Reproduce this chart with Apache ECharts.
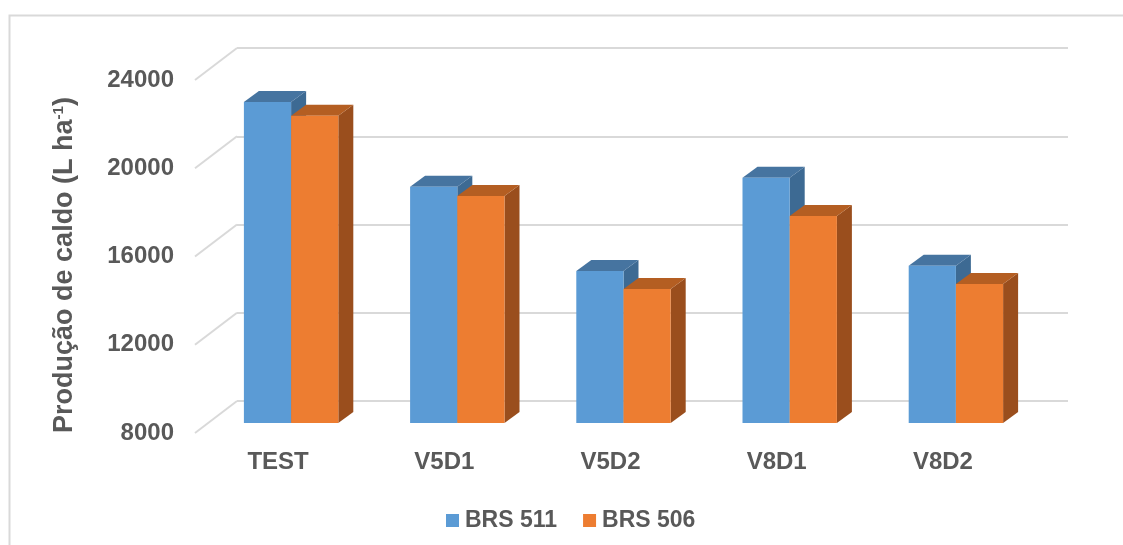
<!DOCTYPE html>
<html>
<head>
<meta charset="utf-8">
<script src="https://cdn.jsdelivr.net/npm/echarts@6/dist/echarts.min.js"></script>
<style>
  html, body { margin: 0; padding: 0; background: #fff; }
  #chart { width: 1123px; height: 545px; }
</style>
</head>
<body>
<div id="chart"></div>
<script>
// Treatments and juice yield (L/ha) for the two cultivars
const categories = ['TEST', 'V5D1', 'V5D2', 'V8D1', 'V8D2'];
const brs511 = [22550, 18710, 14890, 19120, 15130];
const brs506 = [21930, 18290, 14070, 17380, 14300];
const yTicks = [8000, 12000, 16000, 20000, 24000];
const seriesNames = ['BRS 511', 'BRS 506'];

const Y_MIN = 8000, Y_MAX = 24000, Y_STEP = 4000;
const FONT = '"Liberation Sans", Arial, sans-serif';
const TXT = '#595959';
const GRID_COLOR = '#d9d9d9';

// Oblique depth of the floor (front axis plane vs back wall) and of each bar
const FLOOR_DX = -42, FLOOR_DY = 32;
const BAR_DX = 15, BAR_DY = -11;

const palette = {
  'BRS 511': { front: '#5B9BD5', top: '#4674A0', side: '#3D6A93' },
  'BRS 506': { front: '#ED7D31', top: '#B45E22', side: '#9A4E1D' }
};

function valueAxis(idx, showLabels, showSplit) {
  return {
    type: 'value', gridIndex: idx, min: Y_MIN, max: Y_MAX, interval: Y_STEP,
    axisLine: { show: false }, axisTick: { show: false },
    axisLabel: { show: showLabels, color: TXT, fontFamily: FONT, fontWeight: 'bold', fontSize: 24, margin: 21,
                 formatter: v => String(v) },
    splitLine: { show: showSplit, lineStyle: { color: GRID_COLOR, width: 2 } }
  };
}
function catAxis(idx, showLabels) {
  return {
    type: 'category', gridIndex: idx, data: categories,
    axisLine: { show: false }, axisTick: { show: false },
    axisLabel: { show: showLabels, color: TXT, fontFamily: FONT, fontWeight: 'bold', fontSize: 24, margin: 17 },
    splitLine: { show: false }
  };
}

// One 3D box per category: front face, top face and right side face
function barRenderer(name, sideIndex) {
  const c = palette[name];
  return function (params, api) {
    const i = api.value(0), v = api.value(1);
    const top = api.coord([i, v]);
    const base = api.coord([i, Y_MIN]);
    const band = api.size([1, 0])[0];
    const w = band * 0.284;
    const x0 = top[0] + (sideIndex === 0 ? -w : 0);
    const x1 = x0 + w;
    const yT = top[1], yB = base[1];
    return {
      type: 'group',
      children: [
        { type: 'polygon', shape: { points: [[x1, yT], [x1 + BAR_DX, yT + BAR_DY], [x1 + BAR_DX, yB + BAR_DY], [x1, yB]] },
          style: { fill: c.side } },
        { type: 'polygon', shape: { points: [[x0, yT], [x0 + BAR_DX, yT + BAR_DY], [x1 + BAR_DX, yT + BAR_DY], [x1, yT]] },
          style: { fill: c.top } },
        { type: 'rect', shape: { x: x0, y: yT, width: w, height: yB - yT },
          style: { fill: c.front } }
      ]
    };
  };
}

const chart = echarts.init(document.getElementById('chart'), null, { renderer: 'canvas' });

const option = {
  backgroundColor: '#ffffff',
  animation: false,
  grid: [
    { left: 237, top: 48, width: 831, height: 353 },            // back wall
    { left: 237 + FLOOR_DX, top: 48 + FLOOR_DY, width: 831, height: 353 }, // front axis plane
    { left: 208, top: 70, width: 831, height: 353 }             // bar front faces
  ],
  xAxis: [catAxis(0, false), catAxis(1, true), catAxis(2, false)],
  yAxis: [valueAxis(0, false, true), valueAxis(1, true, false), valueAxis(2, false, false)],
  legend: {
    data: seriesNames,
    left: 441, top: 504,
    icon: 'rect', itemWidth: 13, itemHeight: 13, itemGap: 26,
    textStyle: { color: TXT, fontFamily: FONT, fontWeight: 'bold', fontSize: 23, padding: [0, 0, 0, 1] }
  },
  graphic: [
    { type: 'rect', left: 7, top: 13, z: -10, silent: true,
      shape: { width: 1140, height: 560 },
      style: { fill: 'none', stroke: '#d9d9d9', lineWidth: 2 } },
    { type: 'text', x: 65, y: 265, rotation: Math.PI / 2,
      style: {
        text: '{t|Produção de caldo (L ha}{s|-1}{t|)}',
        align: 'center', verticalAlign: 'middle',
        rich: {
          t: { fill: TXT, fontFamily: FONT, fontWeight: 'bold', fontSize: 27, verticalAlign: 'bottom' },
          s: { fill: TXT, fontFamily: FONT, fontWeight: 'bold', fontSize: 15, verticalAlign: 'top' }
        }
      } }
  ],
  series: [
    {
      name: 'floor', type: 'custom', xAxisIndex: 0, yAxisIndex: 0, silent: true, z: 1,
      data: yTicks.map(v => [0, v]),
      renderItem: function (params, api) {
        const p = api.coord([0, api.value(1)]);
        const band = api.size([1, 0])[0];
        const x = p[0] - band / 2;
        return { type: 'line', shape: { x1: x, y1: p[1], x2: x + FLOOR_DX, y2: p[1] + FLOOR_DY },
                 style: { stroke: GRID_COLOR, lineWidth: 2 } };
      }
    },
    {
      name: seriesNames[0], type: 'custom', xAxisIndex: 2, yAxisIndex: 2, z: 2,
      itemStyle: { color: palette['BRS 511'].front },
      data: brs511.map((v, i) => [i, v]),
      renderItem: barRenderer('BRS 511', 0)
    },
    {
      name: seriesNames[1], type: 'custom', xAxisIndex: 2, yAxisIndex: 2, z: 3,
      itemStyle: { color: palette['BRS 506'].front },
      data: brs506.map((v, i) => [i, v]),
      renderItem: barRenderer('BRS 506', 1)
    }
  ]
};

chart.setOption(option);
</script>
</body>
</html>
